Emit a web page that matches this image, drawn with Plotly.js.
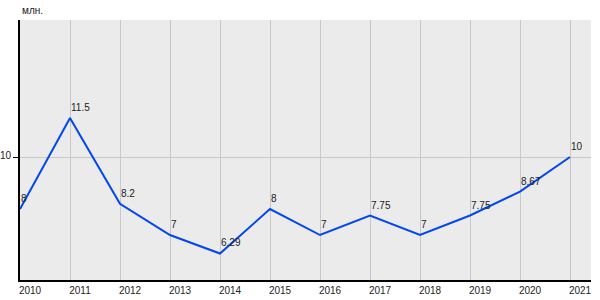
<!DOCTYPE html>
<html><head><meta charset="utf-8">
<script src="https://cdn.plot.ly/plotly-3.0.1.min.js"></script>
<style>html,body{margin:0;padding:0;background:#fff}</style>
</head><body><div id="chart" style="width:600px;height:300px"></div>
<script>
const years = [2010,2011,2012,2013,2014,2015,2016,2017,2018,2019,2020,2021];
const values = [8,11.5,8.2,7,6.29,8,7,7.75,7,7.75,8.67,10];
const labels = ["8","11.5","8.2","7","6.29","8","7","7.75","7","7.75","8.67","10"];
const yTicks = [10];
const unit = "млн.";

const trace = {
  x: years, y: values,
  type: 'scatter', mode: 'lines',
  line: {color: '#0047ee', width: 2},
  hoverinfo: 'none'
};
const labelAnns = years.map((yr, i) => ({
  x: yr, y: values[i], text: labels[i], xref: 'x', yref: 'y',
  xanchor: 'left', yanchor: 'bottom', xshift: -1, yshift: 3, showarrow: false,
  font: {size: 10, color: '#222'}
}));
const layout = {
  width: 600, height: 300,
  margin: {l: 20, r: 9, t: 20, b: 20, pad: 0},
  paper_bgcolor: '#ffffff', plot_bgcolor: '#ebebeb',
  showlegend: false,
  font: {family: 'Arial, Liberation Sans, sans-serif', size: 10, color: '#222'},
  xaxis: {
    range: [2010, 2021.42], tickvals: years, ticktext: years.map(String),
    showgrid: true, gridcolor: '#c8c8c8', gridwidth: 1,
    showline: true, linecolor: '#000', linewidth: 2,
    ticks: '', ticklabelshift: 10, zeroline: false, fixedrange: true
  },
  yaxis: {
    range: [5.27, 15.27], tickvals: yTicks,
    showgrid: true, gridcolor: '#c8c8c8', gridwidth: 1,
    showline: true, linecolor: '#000', linewidth: 2,
    ticks: 'outside', ticklen: 5, tickcolor: '#000', tickwidth: 1,
    ticklabelstandoff: 0, ticklabelshift: -2,
    zeroline: false, fixedrange: true
  },
  annotations: [{
    text: unit, xref: 'paper', yref: 'paper', x: 0, y: 1,
    xanchor: 'left', yanchor: 'bottom', yshift: 2, showarrow: false,
    font: {size: 10, color: '#222'}
  }].concat(labelAnns)
};
Plotly.newPlot('chart', [trace], layout, {displayModeBar: false, staticPlot: true});
</script></body></html>
